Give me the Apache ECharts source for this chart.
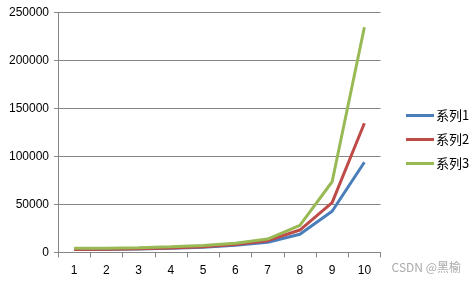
<!DOCTYPE html>
<html><head><meta charset="utf-8">
<script src="https://cdn.jsdelivr.net/npm/echarts@6/dist/echarts.min.js"></script>
<style>html,body{margin:0;padding:0;background:#fff}#c{width:475px;height:283px}</style>
</head><body><div id="c"></div>
<script>
const categories = ['1','2','3','4','5','6','7','8','9','10'];
const seriesNames = ['系列1','系列2','系列3'];
const s1 = [3000, 3200, 3600, 4300, 5500, 7500, 10600, 19000, 43000, 94000];
const s2 = [3000, 3300, 3800, 4700, 6000, 8300, 12300, 23400, 52000, 134600];
const s3 = [4300, 4400, 5000, 6000, 7300, 9600, 14000, 28300, 73700, 234600];
const colors = ['#4A7EBB', '#BE4B48', '#98B954'];

const chart = echarts.init(document.getElementById('c'));
chart.setOption({
  animation: false,
  grid: {left: 58, top: 12.5, right: 94.5, bottom: 30.5},
  legend: {
    orient: 'vertical', left: 401, top: 104, itemGap: 11,
    itemWidth: 28, itemHeight: 14,
    icon: 'path://M0,6 L28,6 L28,9 L0,9 Z',
    textStyle: {fontFamily: 'Noto Sans CJK SC', fontSize: 13, color: '#000', padding: [0,0,0,-3]},
    data: seriesNames
  },
  xAxis: {
    type: 'category', data: categories, boundaryGap: true,
    axisLine: {lineStyle: {color: '#868686', width: 1}},
    axisTick: {show: true, length: 5, lineStyle: {color: '#868686'}},
    axisLabel: {fontFamily: 'Liberation Sans', fontSize: 12, color: '#000', margin: 12}
  },
  yAxis: {
    type: 'value', min: 0, max: 250000, interval: 50000,
    axisLine: {show: true, lineStyle: {color: '#868686'}},
    axisTick: {show: true, length: 4, lineStyle: {color: '#868686'}},
    splitLine: {lineStyle: {color: '#868686', width: 1}},
    axisLabel: {fontFamily: 'Liberation Sans', fontSize: 12, color: '#000', margin: 9,
      formatter: v => String(v)}
  },
  series: [s1, s2, s3].map((d, i) => ({
    name: seriesNames[i], type: 'line', data: d, symbol: 'none',
    lineStyle: {width: 3, color: colors[i]}, itemStyle: {color: colors[i]}
  })),
  graphic: [{
    type: 'text', right: 14, top: 261,
    style: {text: 'CSDN @黑榆', fill: '#aaaaaa', font: '12px "Noto Sans CJK SC"'}
  }]
});
</script></body></html>
